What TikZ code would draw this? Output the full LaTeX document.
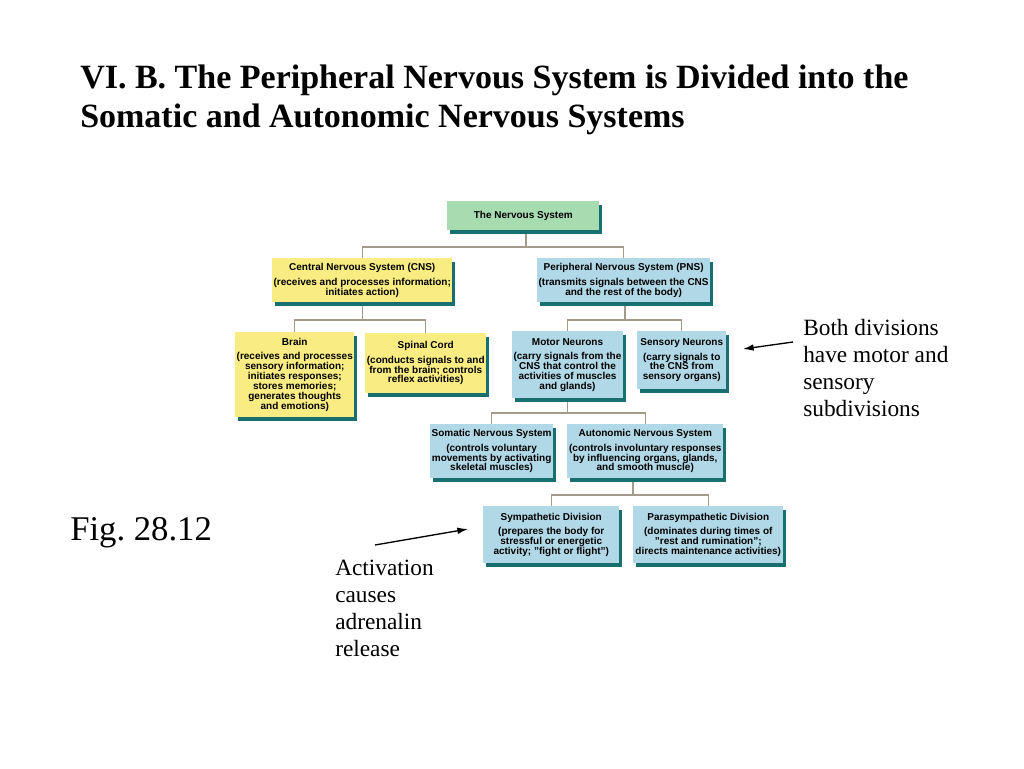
\documentclass[tikz,border=0pt]{standalone}
\usepackage{fontspec}
\setmainfont{Liberation Serif}
\setsansfont{Liberation Sans}
\usetikzlibrary{shadows,backgrounds,arrows.meta}
\definecolor{nsgreen}{HTML}{A7DCB0}
\definecolor{nsyellow}{HTML}{F9EC82}
\definecolor{nsblue}{HTML}{B0D8E6}
\definecolor{nsteal}{HTML}{17706F}
\definecolor{nsline}{HTML}{A39A8A}

\begin{document}
\begin{tikzpicture}[x=0.75pt,y=-0.75pt]
    \tikzset{box/.style 2 args={
        inner sep=1pt, align=center, anchor=north west,
        font=\sffamily\bfseries\fontsize{7.5}{7.4}\selectfont,
        minimum width=#1*0.75pt, minimum height=#2*0.75pt,
        drop shadow={shadow xshift=2.2pt, shadow yshift=-2.6pt, fill=nsteal, opacity=1}
      },
      greenbox/.style 2 args={box={#1}{#2}, fill=nsgreen},
      yellowbox/.style 2 args={box={#1}{#2}, fill=nsyellow},
      bluebox/.style 2 args={box={#1}{#2}, fill=nsblue},
      link/.style={draw=nsline, line width=0.8pt},
      pointer/.style={-{Latex[length=8pt, width=5pt]}, line width=1pt},
      note/.style={font=\fontsize{17.5}{20.25}\selectfont, align=left, anchor=north west, inner sep=0pt}
    }
    \useasboundingbox (0,0) rectangle (1024,768);

    \node [anchor=north west, inner sep=0pt, align=left, font=\bfseries\fontsize{25.5}{29.25}\selectfont] (title) at (80,65)
      {VI. B. The Peripheral Nervous System is Divided into the\\Somatic and Autonomic Nervous Systems};

    \node [greenbox={152}{29}] (ns) at (447,201) {The Nervous System};

    \node [yellowbox={177}{44}] (cns) at (272,258)
      {Central Nervous System (CNS)\\[3.5pt](receives and processes information;\\initiates action)};
    \node [bluebox={171}{44}] (pns) at (537,258)
      {Peripheral Nervous System (PNS)\\[3.5pt](transmits signals between the CNS\\and the rest of the body)};

    \node [yellowbox={119}{85}] (brain) at (235,332)
      {Brain\\[3.5pt](receives and processes\\sensory information;\\initiates responses;\\stores memories;\\generates thoughts\\and emotions)};
    \node [yellowbox={121}{60}] (spinal) at (365,333)
      {Spinal Cord\\[3.5pt](conducts signals to and\\from the brain; controls\\reflex activities)};

    \node [bluebox={110}{67}] (motor) at (512,331)
      {Motor Neurons\\[3.5pt](carry signals from the\\CNS that control the\\activities of muscles\\and glands)};
    \node [bluebox={89}{58}] (sensory) at (637,331)
      {Sensory Neurons\\[3.5pt](carry signals to\\the CNS from\\sensory organs)};

    \node [bluebox={116}{54}] (somatic) at (430,424)
      {Somatic Nervous System\\[3.5pt](controls voluntary\\movements by activating\\skeletal muscles)};
    \node [bluebox={156}{54}] (autonomic) at (567,424)
      {Autonomic Nervous System\\[3.5pt](controls involuntary responses\\by influencing organs, glands,\\and smooth muscle)};

    \node [bluebox={136}{57}] (symp) at (483,506)
      {Sympathetic Division\\[3.5pt](prepares the body for\\stressful or energetic\\activity; "fight or flight")};
    \node [bluebox={150}{57}] (parasym) at (633,506)
      {Parasympathetic Division\\[3.5pt](dominates during times of\\"rest and rumination";\\directs maintenance activities)};

    \node [note] (both) at (803,319) {Both divisions\\have motor and\\sensory\\subdivisions};
    \node [note] (activ) at (335,560) {Activation\\causes\\adrenalin\\release};
    \node [anchor=north west, inner sep=0pt, font=\fontsize{26}{30}\selectfont] (fig) at (70,517) {Fig.\ 28.12};

    \coordinate (b1) at (526,247);
    \coordinate (b2) at (360,320);
    \coordinate (b3) at (625,320);
    \coordinate (b4) at (567,413);
    \coordinate (b5) at (633,495);

    \begin{scope}[on background layer]
      \draw[link] (b1 |- ns.south) -- (b1);
      \draw[link] (cns.north) |- (b1) -| (pns.north);
      \draw[link] (cns.south) -- (cns.south |- b2);
      \draw[link] (brain.north) |- (b2) -| (spinal.north);
      \draw[link] (b3 |- pns.south) -- (b3);
      \draw[link] (motor.north) |- (b3) -| (sensory.north);
      \draw[link] (motor.south) -- (motor.south |- b4);
      \draw[link] (somatic.north) |- (b4) -| (autonomic.north);
      \draw[link] (b5 |- autonomic.south) -- (b5);
      \draw[link] (symp.north) |- (b5) -| (parasym.north);
    \end{scope}

    \coordinate (tipB) at (743,349);
    \coordinate (tipA) at (468,529);
    \draw[pointer] ([shift={(-10,23)}]both.north west) -- (tipB);
    \draw[pointer] ([shift={(40,-15)}]activ.north west) -- (tipA);
  \end{tikzpicture}
\end{document}
